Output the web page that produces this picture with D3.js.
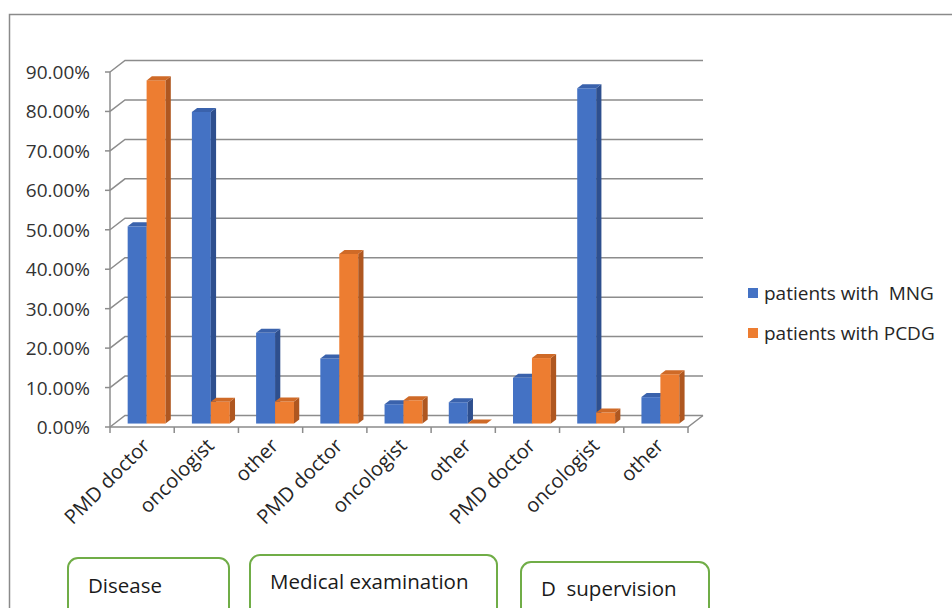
<!DOCTYPE html>
<html>
<head>
<meta charset="utf-8">
<script src="https://cdn.jsdelivr.net/npm/d3@7"></script>
<style>
  body { margin: 0; background: #fff; }
  svg text { font-family: "Open Sans", sans-serif; white-space: pre; }
</style>
</head>
<body>
<div id="chart"></div>
<script>
// data
const categories = ["PMD doctor", "oncologist", "other",
                    "PMD doctor", "oncologist", "other",
                    "PMD doctor", "oncologist", "other"];
const seriesNames = ["patients with  MNG", "patients with PCDG"];
const mng  = [0.50, 0.79, 0.23, 0.165, 0.049, 0.054, 0.116, 0.85, 0.067];
const pcdg = [0.87, 0.055, 0.056, 0.43, 0.059, 0.0, 0.166, 0.028, 0.125];
const groups = ["Disease", "Medical examination", "D  supervision"];
const yTicks = [0, 0.1, 0.2, 0.3, 0.4, 0.5, 0.6, 0.7, 0.8, 0.9];

const colors = {
  front: ["#4472C4", "#ED7D31"],
  top:   ["#3A62AC", "#CF6A27"],
  side:  ["#2E4F8E", "#AF5720"]
};

const W = 952, H = 608;
const svg = d3.select("#chart").append("svg")
    .attr("width", W).attr("height", H);

// outer frame
svg.append("rect")
    .attr("x", 9.5).attr("y", 14.5)
    .attr("width", W + 20).attr("height", H + 20)
    .attr("fill", "none").attr("stroke", "#8a8a8a").attr("stroke-width", 1.5);

// front plane scales, depth goes up-right
const x = d3.scaleBand().domain(d3.range(categories.length)).range([110, 688]);
const y = d3.scaleLinear().domain([0, 0.9]).range([427, 72]);
const depth = {dx: 15, dy: -11.5};

const grid = svg.append("g")
    .attr("fill", "none").attr("stroke", "#8c8c8c").attr("stroke-width", 1.5);

// back wall gridlines + diagonals to front axis
yTicks.forEach(v => {
  grid.append("path")
    .attr("d", `M${x.range()[0]},${y(v)} L${x.range()[0] + depth.dx},${y(v) + depth.dy} L${x.range()[1] + depth.dx},${y(v) + depth.dy}`);
  grid.append("line")
    .attr("x1", x.range()[0] - 5).attr("x2", x.range()[0])
    .attr("y1", y(v)).attr("y2", y(v));
});
// front axis
grid.append("line")
  .attr("x1", 110).attr("x2", 110).attr("y1", y(0)).attr("y2", y(0.9));
// floor front edge and right diagonal
grid.append("path")
  .attr("d", `M${x.range()[0]},${y(0)} L${x.range()[1]},${y(0)} L${x.range()[1] + depth.dx},${y(0) + depth.dy}`);
// category ticks below the floor
d3.range(categories.length + 1).forEach(i => {
  const xx = i < categories.length ? x(i) : x.range()[1];
  grid.append("line")
    .attr("x1", xx).attr("x2", xx).attr("y1", y(0)).attr("y2", y(0) + 6);
});

// y labels
svg.append("g").selectAll("text")
  .data(yTicks)
  .join("text")
    .attr("x", 90)
    .attr("y", d => y(d) + 7)
    .attr("text-anchor", "end")
    .attr("font-size", 19)
    .attr("fill", "#333")
    .text(d => d3.format(".2%")(d));

// 3D bars
const f = 0.3, t = 0.35;           // front face depth, bar thickness (fraction of floor depth)
const barW = x.bandwidth() * 0.295;
const bars = svg.append("g");
const seriesData = [mng, pcdg];

categories.forEach((c, i) => {
  seriesData.forEach((vals, j) => {
    const x0 = x(i) + x.bandwidth() / 2 - barW + j * barW + depth.dx * f;
    const x1 = x0 + barW;
    const yb = y(0) + depth.dy * f;
    const yt = y(vals[i]) + depth.dy * f;
    const ox = depth.dx * t, oy = depth.dy * t;
    // front
    bars.append("rect")
      .attr("x", x0).attr("y", yt)
      .attr("width", barW).attr("height", yb - yt)
      .attr("fill", colors.front[j]);
    // side
    bars.append("path")
      .attr("d", `M${x1},${yt} L${x1 + ox},${yt + oy} L${x1 + ox},${yb + oy} L${x1},${yb} Z`)
      .attr("fill", colors.side[j]);
    // top
    bars.append("path")
      .attr("d", `M${x0},${yt} L${x0 + ox},${yt + oy} L${x1 + ox},${yt + oy} L${x1},${yt} Z`)
      .attr("fill", colors.top[j]);
  });
});

// category labels, rotated
svg.append("g").selectAll("text")
  .data(categories)
  .join("text")
    .attr("transform", (d, i) => `translate(${x(i) + x.bandwidth() / 2 + 9},${y(0) + 20}) rotate(-45)`)
    .attr("text-anchor", "end")
    .attr("font-size", 20)
    .attr("fill", "#262626")
    .text(d => d);

// legend
const legend = svg.append("g");
seriesNames.forEach((s, j) => {
  legend.append("rect")
    .attr("x", 748).attr("y", 288 + j * 40)
    .attr("width", 10).attr("height", 10)
    .attr("fill", colors.front[j]);
  legend.append("text")
    .attr("x", 764).attr("y", 300 + j * 40)
    .attr("font-size", 19)
    .attr("fill", "#262626")
    .text(s);
});

// group boxes under the axis
const boxes = [
  {x: 68, y: 558, w: 161, ty: 593},
  {x: 250, y: 555, w: 247, ty: 589},
  {x: 521, y: 562, w: 188, ty: 596}
];
const boxG = svg.append("g");
groups.forEach((g, i) => {
  const b = boxes[i];
  boxG.append("rect")
    .attr("x", b.x).attr("y", b.y)
    .attr("width", b.w).attr("height", 80)
    .attr("rx", 10)
    .attr("fill", "#fff").attr("stroke", "#70AD47").attr("stroke-width", 2);
  boxG.append("text")
    .attr("x", b.x + 20).attr("y", b.ty)
    .attr("font-size", 20.5)
    .attr("fill", "#1a1a1a")
    .text(g);
});
</script>
</body>
</html>
